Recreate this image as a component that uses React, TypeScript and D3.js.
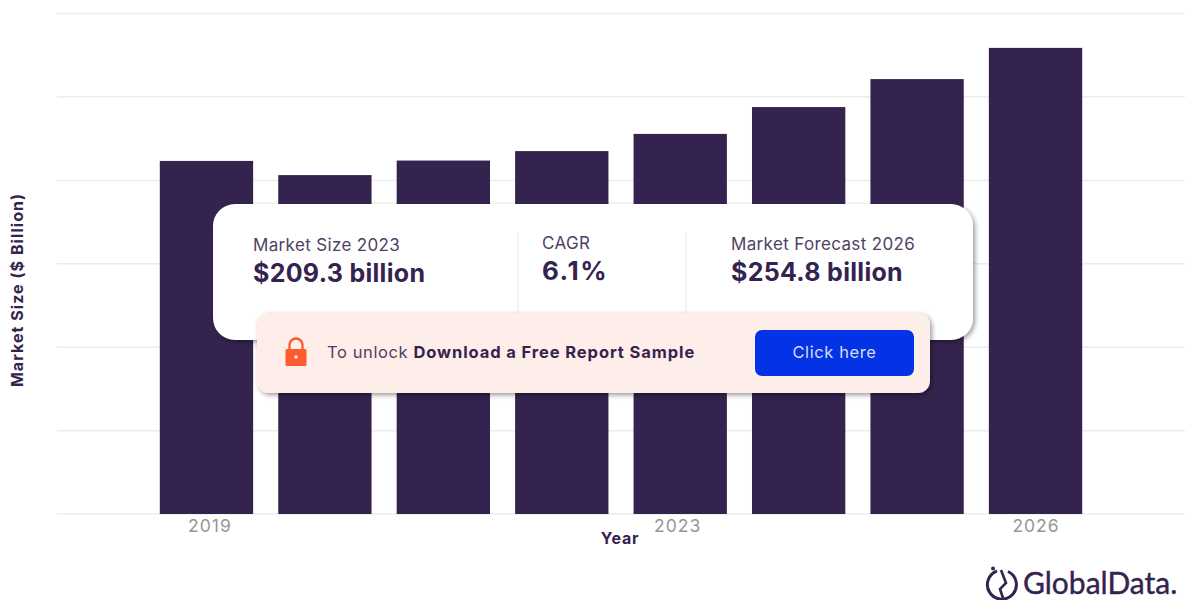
import * as d3 from "d3";
import React from "react";

const years = ["2019", "2020", "2021", "2022", "2023", "2024", "2025", "2026"];
const marketSize = [195.0, 187.5, 195.2, 200.2, 209.3, 223.5, 238.3, 254.8];
const tickYears = ["2019", "2023", "2026"];
const gridValues = [8.2, 52.3, 96.4, 140.6, 184.7, 228.9, 273];

const width = 1200;
const height = 600;
const dark = "#35234f";
const font = "Inter, 'Noto Sans', sans-serif";

const x = d3
  .scaleBand()
  .domain(years)
  .range([57, 1185])
  .paddingInner(0.212)
  .paddingOuter(0.868);

const y = d3.scaleLinear().domain([8.2, 273]).range([514, 13.5]);

// the source image's labels sit a little off the bar centres
const tickNudge: Record<string, number> = { "2019": 3.5, "2023": -2.5, "2026": 0.5 };

const App: React.FC = () => {
  return (
    <svg
      width={width}
      height={height}
      style={{ position: "fixed", left: 0, top: 0, background: "#fff" }}
      fontFamily={font}
    >
      <defs>
        <filter id="cardShadow" x="-5%" y="-10%" width="110%" height="125%">
          <feDropShadow dx="2" dy="2" stdDeviation="2.5" floodColor="#000" floodOpacity="0.4" />
        </filter>
      </defs>

      {/* Gridlines */}
      {gridValues.map((v) => (
        <line
          key={v}
          x1={57}
          x2={1185}
          y1={y(v)}
          y2={y(v)}
          stroke="#ececec"
          strokeWidth={1.5}
        />
      ))}

      {/* Bars */}
      {years.map((yr, i) => (
        <rect
          key={yr}
          x={x(yr)}
          y={y(marketSize[i])}
          width={x.bandwidth()}
          height={y(8.2) - y(marketSize[i])}
          fill={dark}
        />
      ))}

      {/* Axis labels */}
      {tickYears.map((yr) => (
        <text
          key={yr}
          x={x(yr)! + x.bandwidth() / 2 + tickNudge[yr]}
          y={532}
          textAnchor="middle"
          fontSize={17.5}
          fill="#969696"
          letterSpacing={1}
        >
          {yr}
        </text>
      ))}
      <text
        x={620}
        y={544}
        textAnchor="middle"
        fontSize={16}
        fontWeight={700}
        letterSpacing={0.8}
        fill={dark}
      >
        Year
      </text>
      <text
        transform="translate(23,290) rotate(-90)"
        textAnchor="middle"
        fontSize={16}
        fontWeight={700}
        letterSpacing={1.05}
        fill={dark}
      >
        Market Size ($ Billion)
      </text>

      {/* Stats card */}
      <rect x={213} y={204} width={760} height={136} rx={22} fill="#fff" filter="url(#cardShadow)" />
      <line x1={518} x2={518} y1={232} y2={313} stroke="#e8e8ea" />
      <line x1={686} x2={686} y1={232} y2={313} stroke="#e8e8ea" />

      <text x={253} y={251} fontSize={17} letterSpacing={0.35} fill="#4f4166">Market Size 2023</text>
      <text x={253} y={282} fontSize={25} fontWeight={700} letterSpacing={0.3} fill={dark}>$209.3 billion</text>
      <text x={542} y={249} fontSize={17} letterSpacing={0.35} fill="#4f4166">CAGR</text>
      <text x={542} y={280} fontSize={26} fontWeight={700} letterSpacing={1.5} fill={dark}>6.1%</text>
      <text x={731} y={250} fontSize={17} letterSpacing={0.35} fill="#4f4166">Market Forecast 2026</text>
      <text x={731} y={281} fontSize={25} fontWeight={700} letterSpacing={0.3} fill={dark}>$254.8 billion</text>

      {/* Banner */}
      <rect x={257} y={313} width={673} height={80} rx={12} fill="#fdeee9" filter="url(#cardShadow)" />
      <path
        d="M289.5 350 v-5 a6.5 6.5 0 0 1 13 0 v5"
        fill="none"
        stroke="#ff5c2e"
        strokeWidth={2.4}
      />
      <rect x={285.5} y={349} width={21} height={17} rx={1.5} fill="#ff5c2e" />
      <circle cx={296} cy={357} r={1.8} fill="#fdeee9" />
      <text x={327} y={358} fontSize={16.5} letterSpacing={0.6} fill="#4f4166">
        To unlock{" "}
        <tspan fontWeight={700} letterSpacing={0.9} fill={dark}>
          Download a Free Report Sample
        </tspan>
      </text>
      <rect x={755} y={330} width={159} height={46} rx={7} fill="#0433e5" />
      <text
        x={834.5}
        y={358}
        textAnchor="middle"
        fontSize={16.5}
        letterSpacing={0.6}
        fill="#d5ddfb"
      >
        Click here
      </text>

      {/* Logo */}
      <g fill="none" stroke={dark} strokeWidth={3}>
        <path d="M997 571 a14.5 14.5 0 1 0 11 0.5" />
        <path d="M1001 570 l5 13 l-6 6 l3 9" strokeWidth={2.6} />
      </g>
      <circle cx={993} cy={568.5} r={2} fill={dark} />
      <text
        x={1023}
        y={594}
        fontSize={30}
        fontFamily="Lato, sans-serif"
        fill={dark}
        stroke={dark}
        strokeWidth={0.4}
      >
        GlobalData.
      </text>
    </svg>
  );
};

export default App;
